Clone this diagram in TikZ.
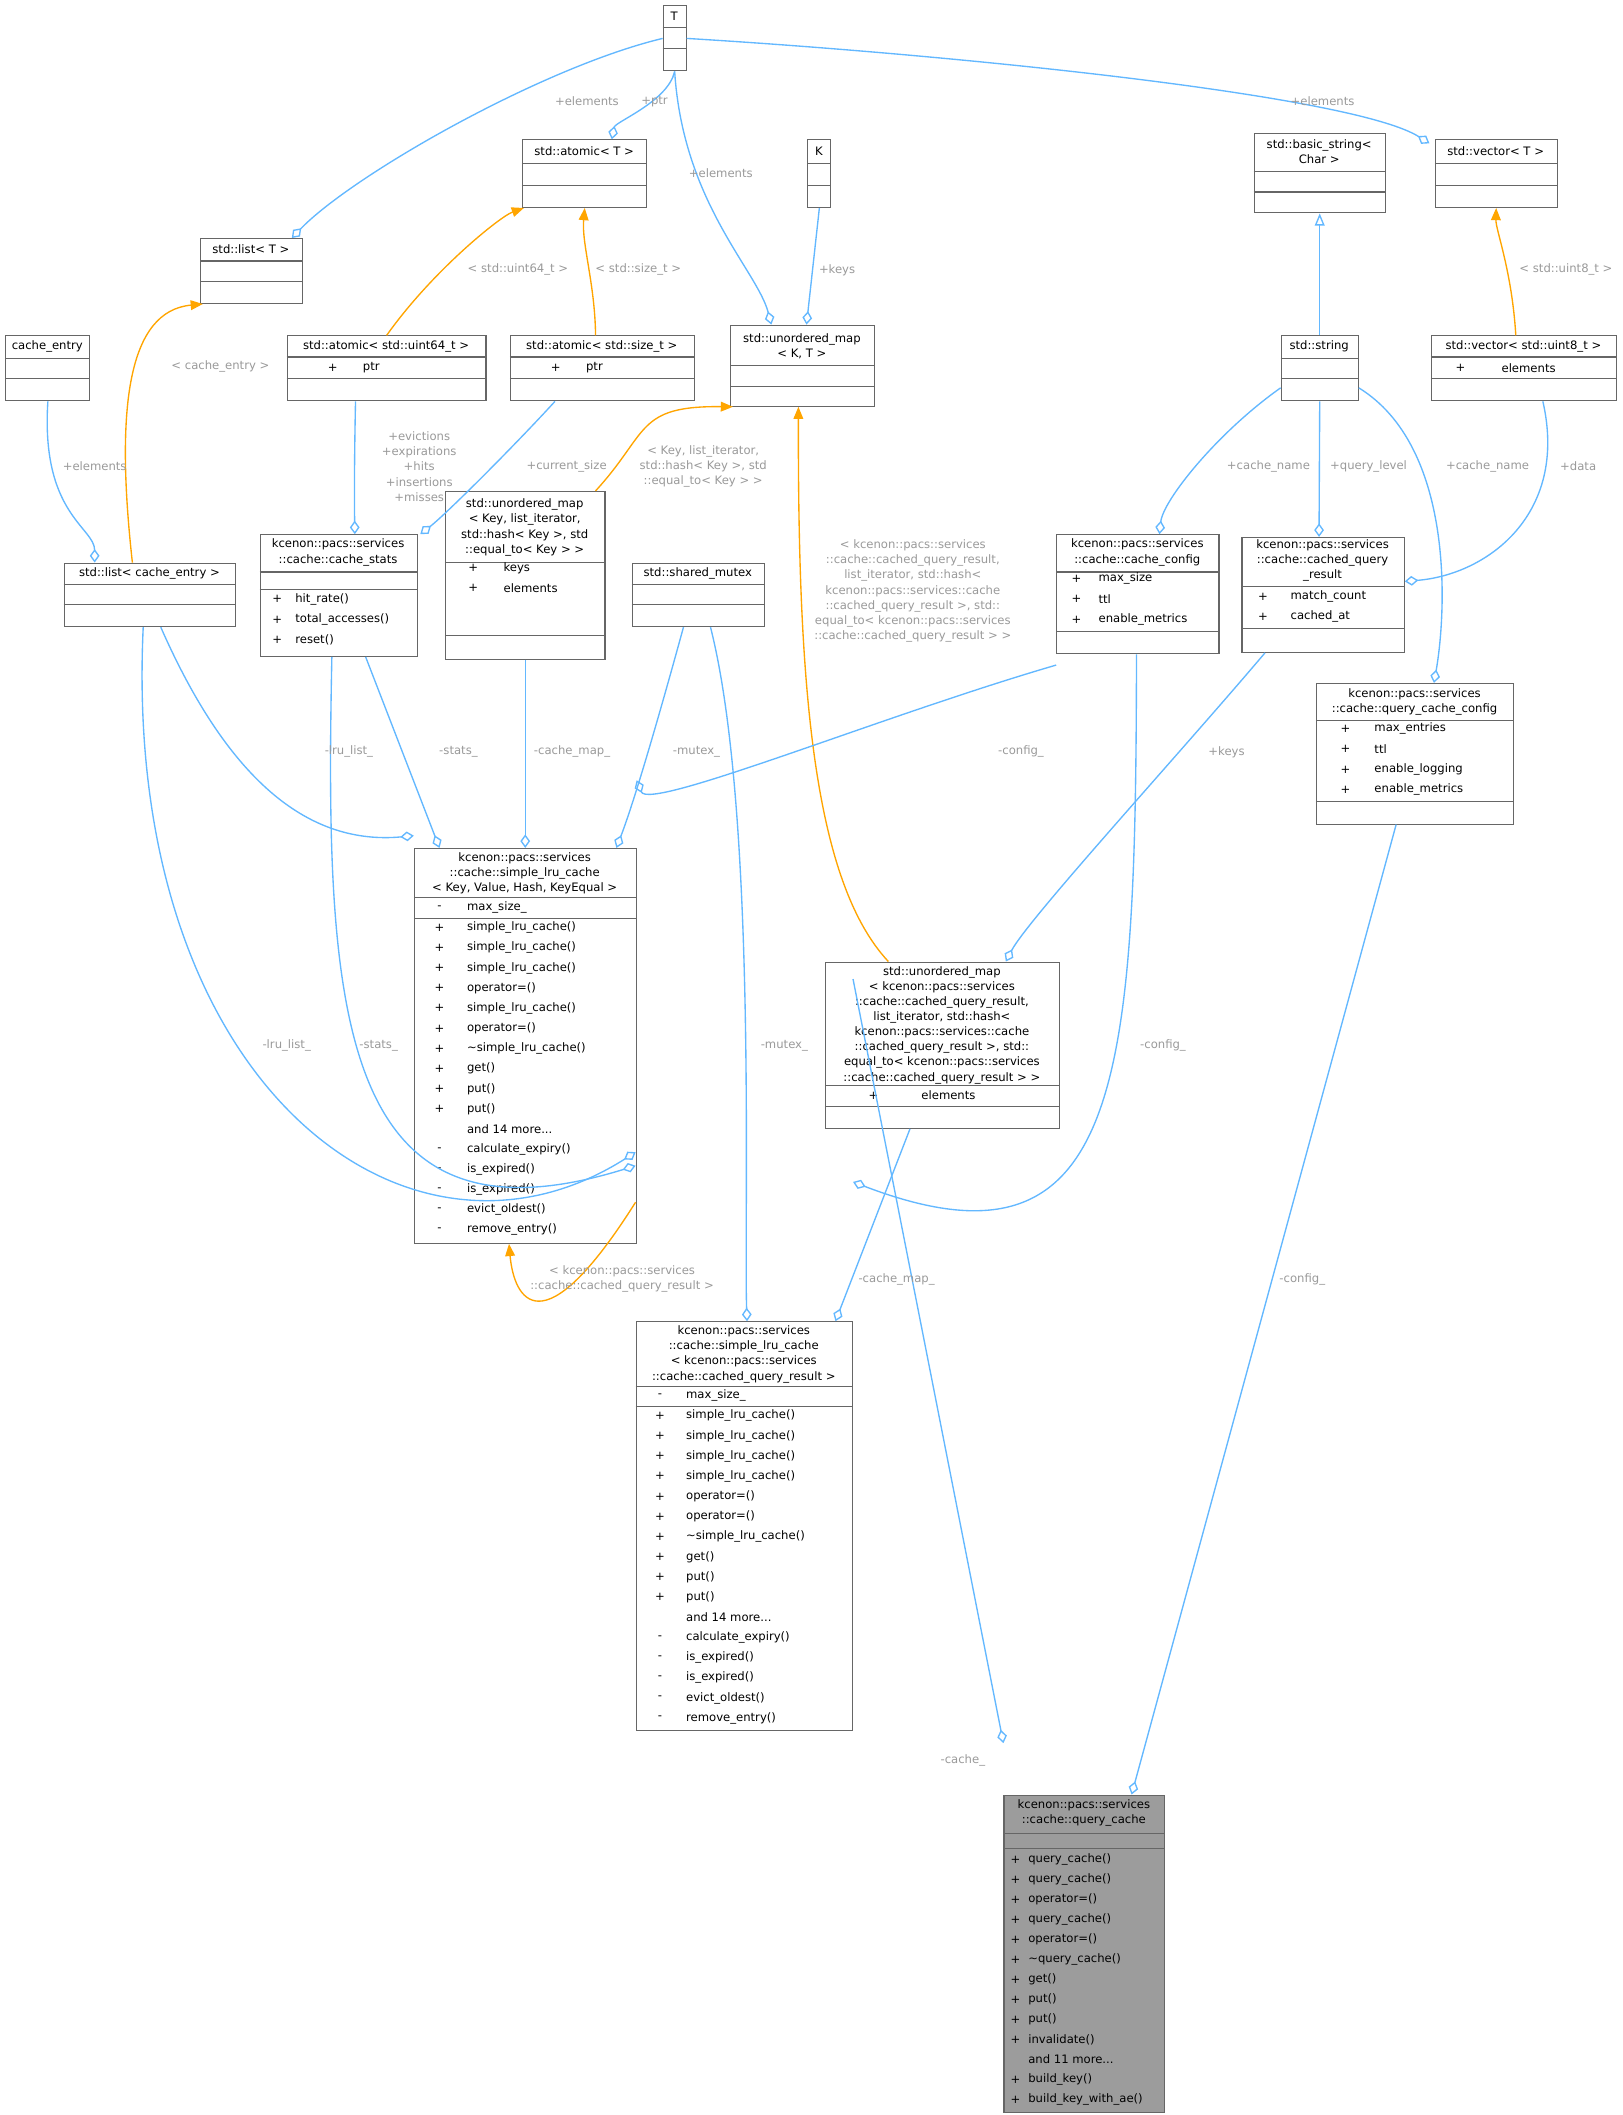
\documentclass[tikz,border=0pt]{standalone}
\usepackage{fontspec}
\setmainfont{DejaVu Sans}
\usetikzlibrary{arrows.meta,calc}
\definecolor{eb}{HTML}{63B8FF}
\definecolor{eo}{HTML}{FFA500}
\definecolor{lg}{HTML}{9A9A9A}
\definecolor{bd}{HTML}{666666}
\newcounter{tn}
\newcommand\mdots{.\kern0pt.\kern0pt.}
\begin{document}
\begin{tikzpicture}[x=0.5pt,y=-0.5pt,
  box/.style={draw=bd,line width=0.4pt,inner sep=0,anchor=north west},
  txt/.style={inner sep=0,font=\fontsize{4.3}{5.6}\selectfont},
  lbl/.style={inner sep=0,text=lg,align=center,font=\fontsize{4.3}{5.6}\selectfont},
  comp/.style={draw=eb,line width=0.5pt,-{Diamond[open,length=5pt,width=3.6pt]}},
  inst/.style={draw=eo,line width=0.5pt,-{Triangle[length=4.5pt,width=3.6pt]}},
  inh/.style={draw=eb,line width=0.5pt,-{Triangle[open,length=4.5pt,width=3.6pt]}}]
\newcommand\cls[6]{\node[box,fill=#6,minimum width={(#4-#2)*0.5pt},minimum height={(#5-#3)*0.5pt}] (#1) at (#2,#3) {};}
\newcommand\hl[3]{\draw[bd,line width=0.4pt] (#1,#3) -- (#2,#3);}
\newcommand\ti[3]{\stepcounter{tn}\node[txt,align=center] (tx\arabic{tn}) at (#1,#2) {#3};}
\newcommand\rw[5]{\stepcounter{tn}\node[txt,anchor=center] (sg\arabic{tn}) at (#1,#3) {#4};\node[txt,anchor=west] (nm\arabic{tn}) at (#2,#3) {#5};}
\useasboundingbox (0,0) rectangle (1200,1564);
\fill[white] (0,0) rectangle (1200,1564);
% boxes
\cls{T}{490}{4}{507}{52}{white}\hl{490}{507}{20}\hl{490}{507}{36}\ti{498.5}{12}{T}
\cls{atomT}{386}{103}{478}{153}{white}\hl{386}{478}{121}\hl{386}{478}{137}\ti{432}{112}{std::atomic< T >}
\cls{K}{597}{103}{614}{153}{white}\hl{597}{614}{121}\hl{597}{614}{137}\ti{605.5}{112}{K}
\cls{bstr}{927}{98}{1024}{157}{white}\hl{927}{1024}{127}\hl{927}{1024}{142}\ti{975.5}{112}{std::basic\_string<\\Char >}
\cls{vecT}{1061}{103}{1151}{153}{white}\hl{1061}{1151}{121}\hl{1061}{1151}{137}\ti{1106}{112}{std::vector< T >}
\cls{listT}{148}{176}{223}{224}{white}\hl{148}{223}{193}\hl{148}{223}{208}\ti{185.5}{184}{std::list< T >}
\cls{ce}{4}{248}{66}{296}{white}\hl{4}{66}{265}\hl{4}{66}{280}\ti{35}{256}{cache\_entry}
\cls{a64}{212}{248}{359}{296}{white}\hl{212}{359}{264}\hl{212}{359}{280}\ti{285.5}{256}{std::atomic< std::uint64\_t >}\rw{246}{268}{272}{+}{ptr}
\cls{asz}{377}{248}{513}{296}{white}\hl{377}{513}{264}\hl{377}{513}{280}\ti{445}{256}{std::atomic< std::size\_t >}\rw{411}{433}{272}{+}{ptr}
\cls{umKT}{540}{240}{646}{300}{white}\hl{540}{646}{270}\hl{540}{646}{286}\ti{593}{256}{std::unordered\_map\\< K, T >}
\cls{str}{947}{248}{1004}{296}{white}\hl{947}{1004}{265}\hl{947}{1004}{280}\ti{975.5}{256}{std::string}
\cls{v8}{1058}{248}{1195}{296}{white}\hl{1058}{1195}{264}\hl{1058}{1195}{280}\ti{1126.5}{256}{std::vector< std::uint8\_t >}\rw{1080}{1110}{272}{+}{elements}
\cls{lce}{47}{416}{174}{463}{white}\hl{47}{174}{432}\hl{47}{174}{447}\ti{110.5}{424}{std::list< cache\_entry >}
\cls{cs}{192}{395}{308}{485}{white}\hl{192}{308}{423}\hl{192}{308}{436}\ti{250}{408.5}{kcenon::pacs::services\\::cache::cache\_stats}
\rw{205}{218}{443}{+}{hit\_rate()}\rw{205}{218}{458}{+}{total\_accesses()}\rw{205}{218}{473}{+}{reset()}
\cls{umK}{329}{363}{447}{487}{white}\hl{329}{447}{416}\hl{329}{447}{470}\ti{388}{390}{std::unordered\_map\\< Key, list\_iterator,\\ std::hash< Key >, std\\::equal\_to< Key > >}
\rw{350}{372}{420}{+}{keys}\rw{350}{372}{435}{+}{elements}
\cls{mx}{467}{416}{565}{463}{white}\hl{467}{565}{432}\hl{467}{565}{447}\ti{516}{424}{std::shared\_mutex}
\cls{cc}{781}{395}{901}{483}{white}\hl{781}{901}{423}\hl{781}{901}{467}\ti{841}{408.5}{kcenon::pacs::services\\::cache::cache\_config}
\rw{796}{812}{428}{+}{max\_size}\rw{796}{812}{443}{+}{ttl}\rw{796}{812}{458}{+}{enable\_metrics}
\cls{cqr}{918}{397}{1038}{482}{white}\hl{918}{1038}{434}\hl{918}{1038}{465}\ti{978}{414.5}{kcenon::pacs::services\\::cache::cached\_query\\\_result}
\rw{934}{954}{441}{+}{match\_count}\rw{934}{954}{456}{+}{cached\_at}
\cls{qcc}{973}{505}{1119}{609}{white}\hl{973}{1119}{533}\hl{973}{1119}{593}\ti{1046}{519}{kcenon::pacs::services\\::cache::query\_cache\_config}
\rw{995}{1016}{539}{+}{max\_entries}\rw{995}{1016}{554}{+}{ttl}\rw{995}{1016}{569}{+}{enable\_logging}\rw{995}{1016}{584}{+}{enable\_metrics}
\cls{sK}{306}{627}{470}{919}{white}\hl{306}{470}{664}\hl{306}{470}{679}\ti{388}{646}{kcenon::pacs::services\\::cache::simple\_lru\_cache\\< Key, Value, Hash, KeyEqual >}
\rw{325}{345}{671}{-}{max\_size\_}
\foreach \s/\n [count=\i] in {+/simple\_lru\_cache(),+/simple\_lru\_cache(),+/simple\_lru\_cache(),+/operator=(),+/simple\_lru\_cache(),+/operator=(),+/\textasciitilde simple\_lru\_cache(),+/get(),+/put(),+/put(),{}/and 14 more\mdots,-/calculate\_expiry(),-/is\_expired(),-/is\_expired(),-/evict\_oldest(),-/remove\_entry()}
{\node[txt] (sKs\i) at (325,{686+(\i-1)*14.9}) {\s};\node[txt,anchor=west] (sKn\i) at (345,{686+(\i-1)*14.9}) {\n};}
\cls{bum}{610}{711}{783}{834}{white}\hl{610}{783}{803}\hl{610}{783}{818}
\ti{696.5}{758}{std::unordered\_map\\< kcenon::pacs::services\\::cache::cached\_query\_result,\\ list\_iterator, std::hash<\\ kcenon::pacs::services::cache\\::cached\_query\_result >, std::\\equal\_to< kcenon::pacs::services\\::cache::cached\_query\_result > >}
\rw{646}{681}{810}{+}{elements}
\cls{sQ}{470}{977}{630}{1279}{white}\hl{470}{630}{1025}\hl{470}{630}{1040}\ti{550}{1001.5}{kcenon::pacs::services\\::cache::simple\_lru\_cache\\< kcenon::pacs::services\\::cache::cached\_query\_result >}
\rw{488}{507}{1032}{-}{max\_size\_}
\foreach \s/\n [count=\i] in {+/simple\_lru\_cache(),+/simple\_lru\_cache(),+/simple\_lru\_cache(),+/simple\_lru\_cache(),+/operator=(),+/operator=(),+/\textasciitilde simple\_lru\_cache(),+/get(),+/put(),+/put(),{}/and 14 more\mdots,-/calculate\_expiry(),-/is\_expired(),-/is\_expired(),-/evict\_oldest(),-/remove\_entry()}
{\node[txt] (sQs\i) at (488,{1047+(\i-1)*14.9}) {\s};\node[txt,anchor=west] (sQn\i) at (507,{1047+(\i-1)*14.9}) {\n};}
\cls{qc}{742}{1327}{861}{1562}{bd!65}\hl{742}{861}{1356}\hl{742}{861}{1367}\ti{801.5}{1340.5}{kcenon::pacs::services\\::cache::query\_cache}
\foreach \n [count=\i] in {query\_cache(),query\_cache(),operator=(),query\_cache(),operator=(),\textasciitilde query\_cache(),get(),put(),put(),invalidate(),and 11 more\mdots,build\_key(),build\_key\_with\_ae()}
{\node[txt,anchor=west] (qcn\i) at (760,{1375+(\i-1)*14.8}) {\n};}
\foreach \i in {1,2,3,4,5,6,7,8,9,10,12,13}{\node[txt] (qcs\i) at (751,{1375+(\i-1)*14.8}) {+};}
% edges
\draw[comp] (T.west) .. controls (400,50) and (260,130) .. ($(listT.north east)+(-8,0)$);
\draw[comp] (T.south) .. controls (494,75) and (455,90) .. ($(atomT.north)+(20,0)$);
\draw[comp] (T.south) .. controls (505,150) and (560,200) .. ($(umKT.north)+(-23,0)$);
\draw[comp] (T.east) .. controls (700,40) and (1000,70) .. ($(vecT.north west)+(-4,3)$);
\draw[comp] (K.south) -- ($(umKT.north)+(3,0)$);
\draw[inh] (str.north) -- (bstr.south);
\draw[inst] ($(v8.north)+(-6,0)$) .. controls (1118,200) and (1106,170) .. (vecT.south);
\draw[inst] (a64.north) .. controls (320,200) and (370,160) .. ($(atomT.south)+(-45,0)$);
\draw[inst] ($(asz.north)+(-5,0)$) .. controls (440,210) and (430,180) .. (atomT.south);
\draw[inst] ($(lce.north)+(-13,0)$) .. controls (85,300) and (95,230) .. ($(listT.south west)+(2,0)$);
\draw[comp] (ce.south) .. controls (30,380) and (70,390) .. ($(lce.north west)+(23,0)$);
\draw[comp] ($(a64.south)+(-23,0)$) .. controls (262,340) and (262,370) .. ($(cs.north)+(12,0)$);
\draw[comp] ($(asz.south)+(-35,0)$) .. controls (380,330) and (330,380) .. ($(cs.north east)+(2,0)$);
\draw[inst] ($(umK.north)+(52,0)$) .. controls (480,320) and (470,300) .. ($(umKT.south west)+(2,0)$);
\draw[inst] ($(bum.north)+(-40,0)$) .. controls (600,650) and (590,500) .. ($(umKT.south)+(-3,0)$);
\draw[comp] ($(str.south west)+(0,-10)$) .. controls (900,320) and (860,370) .. ($(cc.north)+(16,0)$);
\draw[comp] (str.south) -- ($(cqr.north)+(-3,0)$);
\draw[comp] ($(str.south east)+(0,-10)$) .. controls (1075,330) and (1070,450) .. ($(qcc.north)+(14,0)$);
\draw[comp] ($(v8.south)+(14,0)$) .. controls (1160,380) and (1100,425) .. ($(cqr.east)+(0,-10)$);
\draw[comp] ($(lce.south)+(8,0)$) .. controls (170,580) and (230,625) .. ($(sK.north west)+(0,-9)$);
\draw[comp] ($(cs.south)+(20,0)$) -- ($(sK.north west)+(19,0)$);
\draw[comp] (umK.south) -- (sK.north);
\draw[comp] ($(mx.south)+(-11,0)$) .. controls (490,520) and (470,590) .. ($(sK.north east)+(-15,0)$);
\draw[comp] ($(cc.south west)+(0,8)$) .. controls (650,530) and (480,600) .. ($(sK.north east)+(0,-50)$);
\draw[comp] ($(cqr.south)+(-43,0)$) .. controls (870,560) and (760,680) .. ($(bum.north east)+(-40,0)$);
\draw[comp] ($(lce.south)+(-5,0)$) .. controls (90,800) and (300,960) .. ($(sQ.north west)+(0,-125)$);
\draw[comp] ($(cs.south)+(-5,0)$) .. controls (240,750) and (250,930) .. ($(sQ.north west)+(0,-115)$);
\draw[comp] ($(mx.south)+(9,0)$) .. controls (560,600) and (550,900) .. ($(sQ.north)+(2,0)$);
\draw[comp] ($(bum.south)+(-24,0)$) -- ($(sQ.north east)+(-13,0)$);
\draw[comp] ($(cc.south)+(-1,0)$) .. controls (840,800) and (830,950) .. ($(sQ.north east)+(0,-103)$);
\draw[inst] ($(sQ.north west)+(0,-88)$) .. controls (400,1000) and (380,960) .. ($(sK.south)+(-12,0)$);
\draw[comp] ($(sQ.north east)+(0,-253)$) -- ($(qc.north west)+(0,-38)$);
\draw[comp] ($(qcc.south)+(-14,0)$) -- ($(qc.north east)+(-25,0)$);
% labels
\node[lbl] (l1) at (434,75) {+elements};
\node[lbl] (l2) at (484,75) {+ptr};
\node[lbl] (l3) at (533,128) {+elements};
\node[lbl] (l4) at (978,75) {+elements};
\node[lbl] (l5) at (619,200) {+keys};
\node[lbl] (l6) at (1158,199) {< std::uint8\_t >};
\node[lbl] (l7) at (383,199) {< std::uint64\_t >};
\node[lbl] (l8) at (472,199) {< std::size\_t >};
\node[lbl] (l9) at (163,271) {< cache\_entry >};
\node[lbl] (l10) at (70,345) {+elements};
\node[lbl] (l11) at (310,345) {+evictions\\+expirations\\+hits\\+insertions\\+misses};
\node[lbl] (l12) at (419,345) {+current\_size};
\node[lbl] (l13) at (520,345) {< Key, list\_iterator,\\ std::hash< Key >, std\\::equal\_to< Key > >};
\node[lbl] (l14) at (675,437) {< kcenon::pacs::services\\::cache::cached\_query\_result,\\ list\_iterator, std::hash<\\ kcenon::pacs::services::cache\\::cached\_query\_result >, std::\\equal\_to< kcenon::pacs::services\\::cache::cached\_query\_result > >};
\node[lbl] (l15) at (938,345) {+cache\_name};
\node[lbl] (l16) at (1012,345) {+query\_level};
\node[lbl] (l17) at (1100,345) {+cache\_name};
\node[lbl] (l18) at (1167,345) {+data};
\node[lbl] (l19) at (258,556) {-lru\_list\_};
\node[lbl] (l20) at (339,556) {-stats\_};
\node[lbl] (l21) at (423,556) {-cache\_map\_};
\node[lbl] (l22) at (515,556) {-mutex\_};
\node[lbl] (l23) at (755,556) {-config\_};
\node[lbl] (l24) at (907,556) {+keys};
\node[lbl] (l25) at (212,773) {-lru\_list\_};
\node[lbl] (l26) at (280,773) {-stats\_};
\node[lbl] (l27) at (580,773) {-mutex\_};
\node[lbl] (l28) at (860,773) {-config\_};
\node[lbl] (l29) at (663,946) {-cache\_map\_};
\node[lbl] (l30) at (460,946) {< kcenon::pacs::services\\::cache::cached\_query\_result >};
\node[lbl] (l31) at (963,946) {-config\_};
\node[lbl] (l32) at (712,1302) {-cache\_};
\end{tikzpicture}
\end{document}
